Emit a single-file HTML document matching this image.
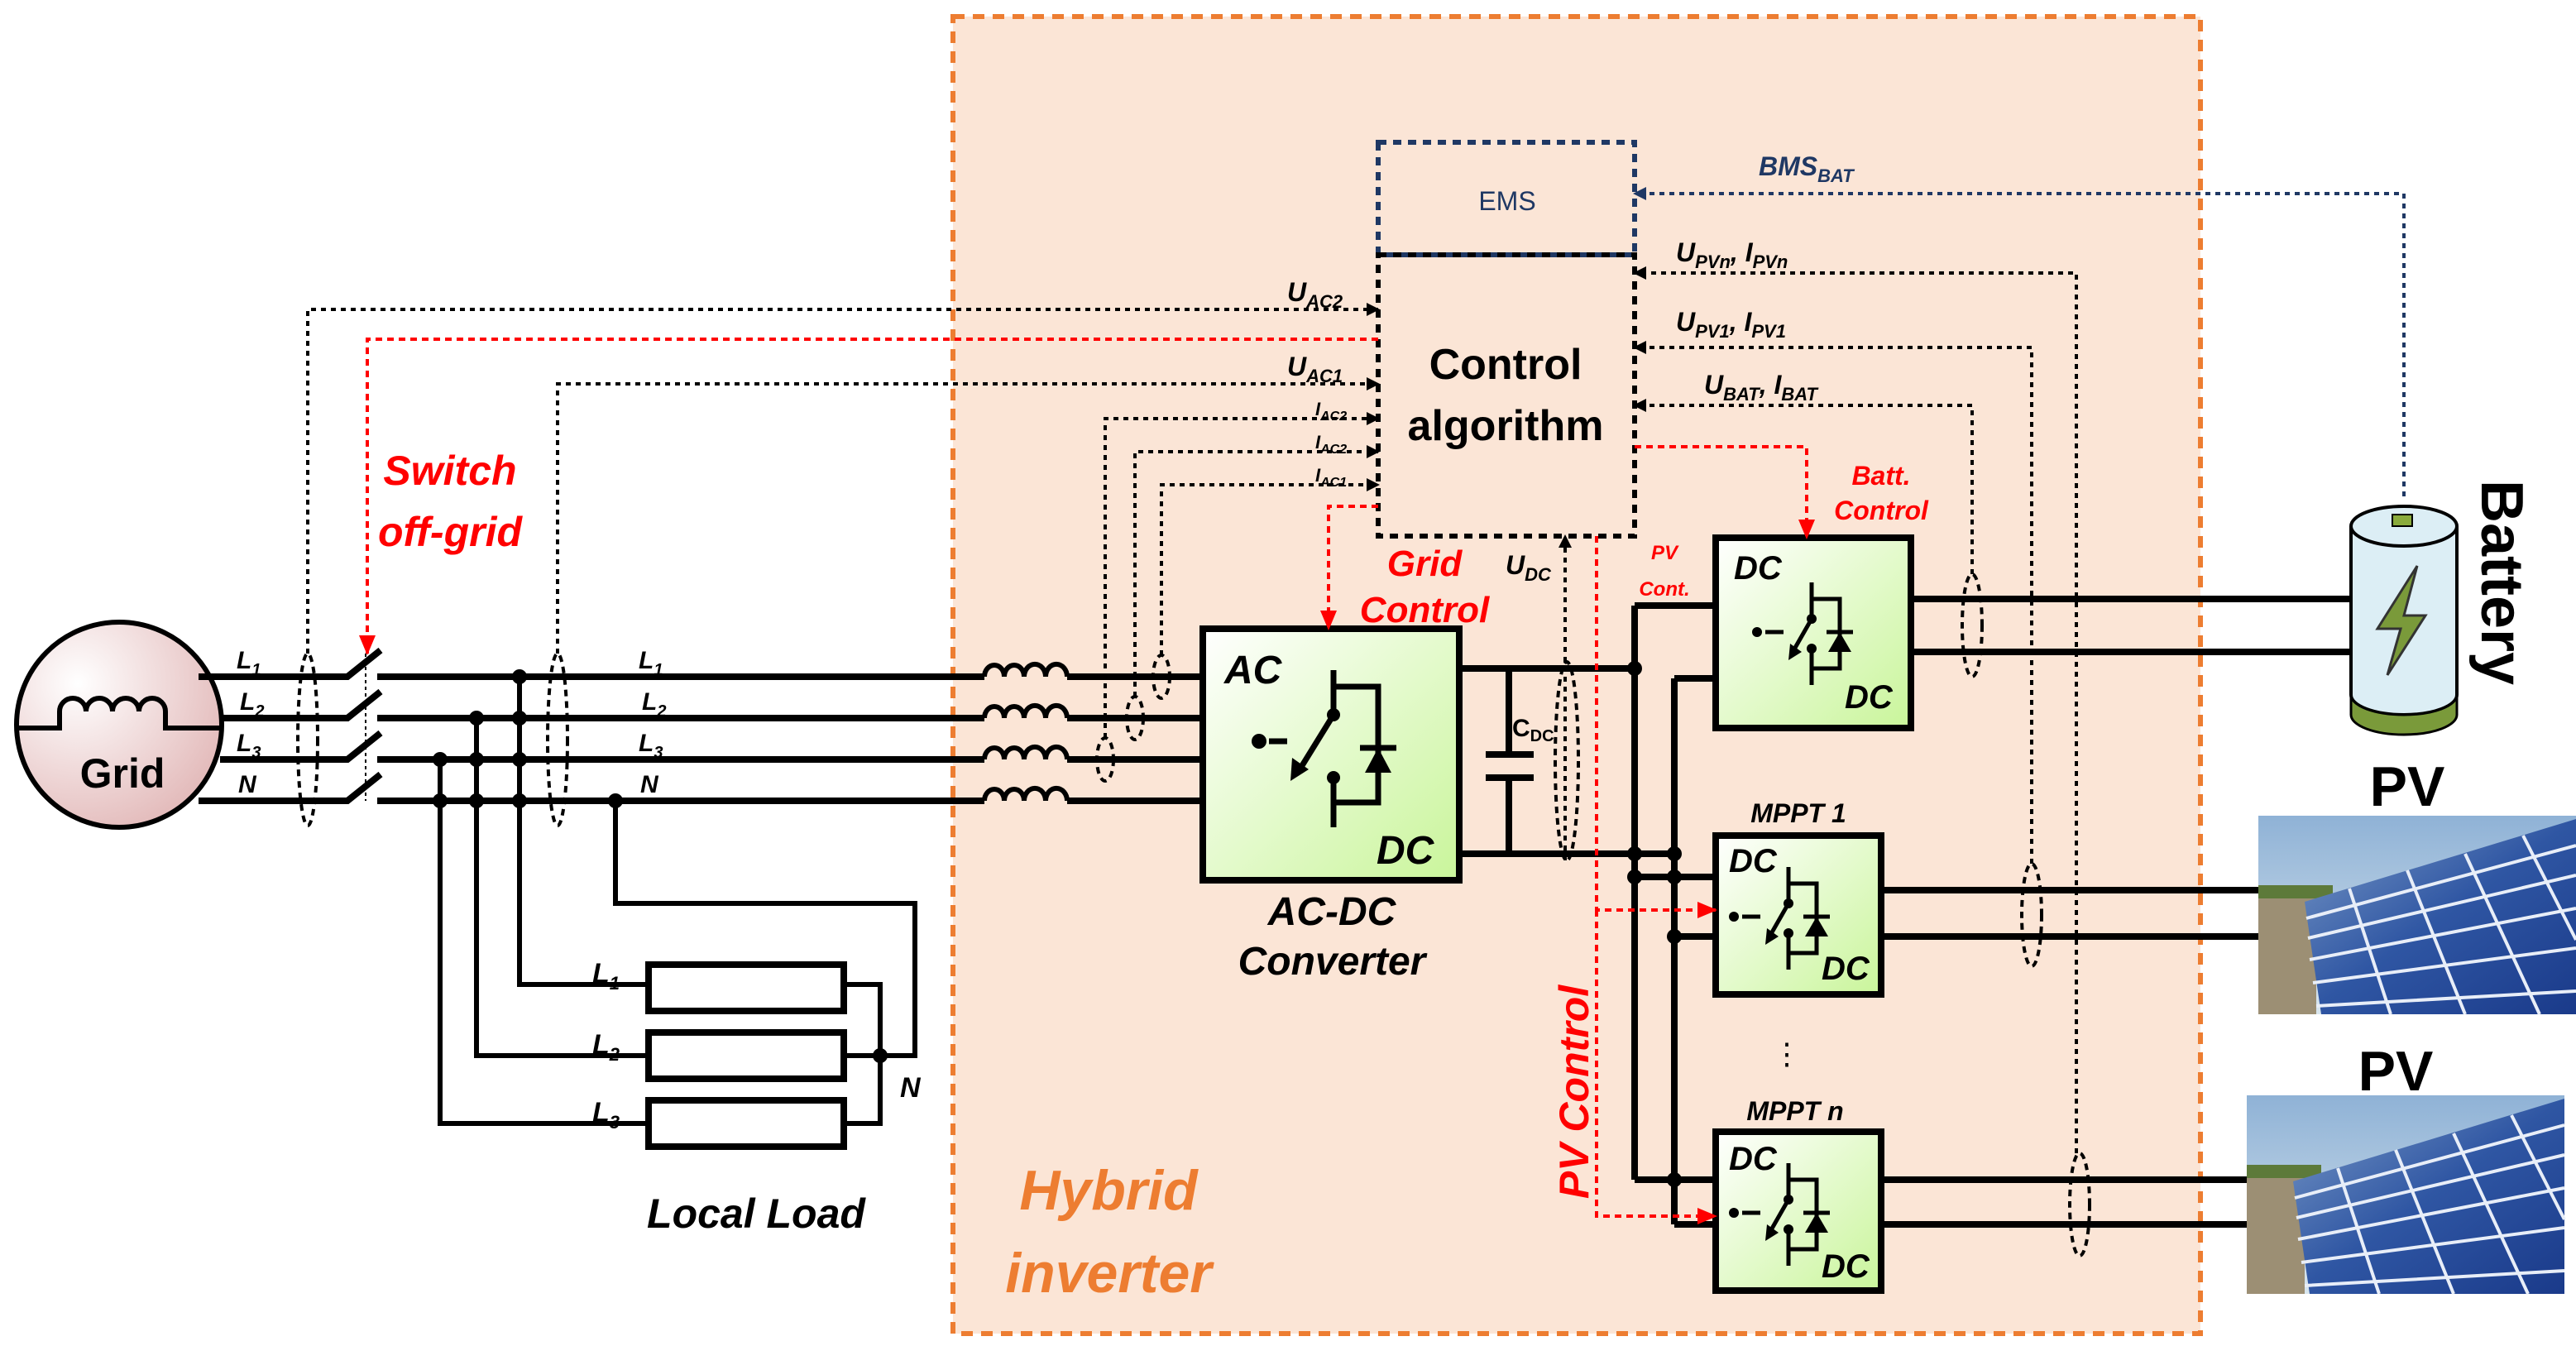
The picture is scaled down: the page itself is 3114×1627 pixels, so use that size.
<!DOCTYPE html>
<html><head><meta charset="utf-8">
<style>
html,body{margin:0;padding:0;background:#fff;}
svg{display:block;}
text{font-family:"Liberation Sans",sans-serif;}
.b{font-weight:bold;}
.i{font-style:italic;font-weight:bold;}
</style></head>
<body>
<svg width="3114" height="1627" viewBox="0 0 1557 813.5" preserveAspectRatio="none" xmlns="http://www.w3.org/2000/svg">
<defs>
<linearGradient id="gr" x1="0" y1="0" x2="1" y2="1">
<stop offset="0" stop-color="#ffffff"/><stop offset="1" stop-color="#c9f59a"/></linearGradient>
<radialGradient id="gc" cx="0.3" cy="0.3" r="0.8">
<stop offset="0" stop-color="#ffffff"/><stop offset="1" stop-color="#e2b8b8"/></radialGradient>
<linearGradient id="sky" x1="0" y1="0" x2="0" y2="1">
<stop offset="0" stop-color="#8fb2d6"/><stop offset="1" stop-color="#d9e6ee"/></linearGradient>
<linearGradient id="pan" x1="0" y1="0" x2="1" y2="1">
<stop offset="0" stop-color="#7b9bc8"/><stop offset="0.5" stop-color="#2f56a3"/><stop offset="1" stop-color="#1a3a8a"/></linearGradient>
<marker id="ak" markerWidth="8" markerHeight="8" refX="7" refY="4" orient="auto" markerUnits="userSpaceOnUse"><path d="M0,0 L8,4 L0,8 z" fill="#000"/></marker>
<marker id="ar" markerWidth="12" markerHeight="10" refX="11" refY="5" orient="auto" markerUnits="userSpaceOnUse"><path d="M0,0 L12,5 L0,10 z" fill="#f00"/></marker>
<marker id="an" markerWidth="8" markerHeight="8" refX="7" refY="4" orient="auto" markerUnits="userSpaceOnUse"><path d="M0,0 L8,4 L0,8 z" fill="#1f3864"/></marker>
<g id="panel">
<rect x="0" y="0" width="192" height="120" fill="url(#sky)"/>
<rect x="0" y="42" width="45" height="8" fill="#5d7a3a"/>
<rect x="0" y="50" width="35" height="70" fill="#9c8f74"/>
<polygon points="28,52 192,2 192,120 38,120" fill="url(#pan)"/>
<g stroke="#e8eef8" stroke-width="2" fill="none">
<path d="M29,62 L192,18 M30,74 L192,36 M31,87 L192,56 M33,101 L192,80 M35,115 L192,106"/>
<path d="M55,44 L80,120 M90,33 L125,120 M125,23 L170,120 M160,12 L192,75"/>
</g>
</g>
</defs>

<rect x="576" y="10" width="754" height="796" fill="#fbe5d6" stroke="#ed7d31" stroke-width="3" stroke-dasharray="7,5"/>

<!-- grid -->
<circle cx="72" cy="438" r="62" fill="url(#gc)" stroke="#000" stroke-width="3"/>
<path d="M10,440 H36 V430 a8,8 0 0 1 16,0 a8,8 0 0 1 16,0 a8,8 0 0 1 16,0 a8,8 0 0 1 16,0 V440 H134" fill="none" stroke="#000" stroke-width="3"/>
<text x="74" y="476" font-size="25" class="b" text-anchor="middle">Grid</text>

<g stroke="#000" stroke-width="4" fill="none">
<path d="M120,409 H210 L230,393 M133,434 H210 L230,418 M133,459 H210 L230,443 M120,484 H210 L230,468"/>
<path d="M228,409 H595 M228,434 H595 M228,459 H595 M228,484 H595"/>
<path d="M645,409 H727 M645,434 H727 M645,459 H727 M645,484 H727"/>
</g>
<g stroke="#000" stroke-width="3" fill="none">
<path d="M595,409 a6,7 0 0 1 12,0 a6,7 0 0 1 12,0 a6,7 0 0 1 13,0 a6,7 0 0 1 13,0"/>
<path d="M595,434 a6,7 0 0 1 12,0 a6,7 0 0 1 12,0 a6,7 0 0 1 13,0 a6,7 0 0 1 13,0"/>
<path d="M595,459 a6,7 0 0 1 12,0 a6,7 0 0 1 12,0 a6,7 0 0 1 13,0 a6,7 0 0 1 13,0"/>
<path d="M595,484 a6,7 0 0 1 12,0 a6,7 0 0 1 12,0 a6,7 0 0 1 13,0 a6,7 0 0 1 13,0"/>
</g>
<line x1="221" y1="395" x2="221" y2="484" stroke="#000" stroke-width="1" stroke-dasharray="2,2"/>

<g stroke="#000" stroke-width="3" fill="none">
<path d="M314,409 V595 H390 M288,434 V638 H390 M266,459 V679 H390 M372,484 V546 H553 V638 H532 M509,595 H532 V679 H509 M509,638 H532"/>
</g>
<g fill="#fff" stroke="#000" stroke-width="4">
<rect x="392" y="583" width="118" height="28"/>
<rect x="392" y="624" width="118" height="28"/>
<rect x="392" y="665" width="118" height="28"/>
</g>
<g fill="#000">
<circle cx="314" cy="409" r="4.5"/><circle cx="314" cy="434" r="4.5"/><circle cx="314" cy="459" r="4.5"/><circle cx="314" cy="484" r="4.5"/>
<circle cx="288" cy="434" r="4.5"/><circle cx="288" cy="459" r="4.5"/><circle cx="288" cy="484" r="4.5"/>
<circle cx="266" cy="459" r="4.5"/><circle cx="266" cy="484" r="4.5"/><circle cx="372" cy="484" r="4.5"/>
<circle cx="532" cy="638" r="4.5"/>
</g>
<g class="i" font-size="15">
<text x="143" y="404">L<tspan font-size="10" dy="4">1</tspan></text>
<text x="145" y="429">L<tspan font-size="10" dy="4">2</tspan></text>
<text x="143" y="454">L<tspan font-size="10" dy="4">3</tspan></text>
<text x="144" y="479">N</text>
<text x="386" y="404">L<tspan font-size="10" dy="4">1</tspan></text>
<text x="388" y="429">L<tspan font-size="10" dy="4">2</tspan></text>
<text x="386" y="454">L<tspan font-size="10" dy="4">3</tspan></text>
<text x="387" y="479">N</text>
<text x="358" y="594" font-size="17">L<tspan font-size="11" dy="4">1</tspan></text>
<text x="358" y="637" font-size="17">L<tspan font-size="11" dy="4">2</tspan></text>
<text x="358" y="678" font-size="17">L<tspan font-size="11" dy="4">3</tspan></text>
<text x="544" y="663" font-size="17">N</text>
</g>
<text x="457" y="742" class="i" font-size="25" text-anchor="middle">Local Load</text>

<g fill="none" stroke="#000" stroke-width="2" stroke-dasharray="4,3">
<ellipse cx="186" cy="447" rx="6" ry="52"/>
<ellipse cx="337" cy="447" rx="6" ry="52"/>
<ellipse cx="668" cy="459" rx="5" ry="13"/>
<ellipse cx="686" cy="434" rx="5" ry="13"/>
<ellipse cx="702" cy="409" rx="5" ry="13"/>
<ellipse cx="947" cy="460" rx="7" ry="60"/>
<ellipse cx="1192" cy="378" rx="6" ry="31"/>
<ellipse cx="1228" cy="553" rx="6" ry="31"/>
<ellipse cx="1257" cy="728" rx="6" ry="31"/>
</g>

<!-- AC-DC converter -->
<rect x="727" y="380" width="155" height="152" fill="url(#gr)" stroke="#000" stroke-width="4"/>
<text x="740" y="413" class="i" font-size="24">AC</text>
<text x="832" y="522" class="i" font-size="24">DC</text>
<g stroke="#000" stroke-width="3.5" fill="none">
<path d="M806,405 V432 M806,415 H833 V485 H806 M806,470 V500"/>
<path d="M767,448 H778 M806,432 L785,466"/>
<path d="M822,452 H844"/>
</g>
<circle cx="761" cy="448" r="4.5" fill="#000"/>
<circle cx="806" cy="432" r="4" fill="#000"/><circle cx="806" cy="470" r="4" fill="#000"/>
<polygon points="780,472 781,458 791,465" fill="#000"/>
<polygon points="833,452 825,467 841,467" fill="#000"/>
<text x="805" y="559" class="i" font-size="24" text-anchor="middle">AC-DC</text>
<text x="805" y="589" class="i" font-size="24" text-anchor="middle">Converter</text>

<g stroke="#000" stroke-width="4" fill="none">
<path d="M882,404 H988 M882,516 H1012"/>
<path d="M912,404 V456 M912,470 V516"/>
<path d="M898,456 H927 M898,470 H927"/>
<path d="M988,366 V713 M1012,410 V740"/>
<path d="M988,366 H1037 M1012,410 H1037"/>
<path d="M988,530 H1037 M1012,566 H1037"/>
<path d="M988,713 H1037 M1012,740 H1037"/>
<path d="M1155,362 H1425 M1155,394 H1425"/>
<path d="M1137,538 H1365 M1137,566 H1365"/>
<path d="M1137,713 H1358 M1137,740 H1358"/>
</g>
<g fill="#000">
<circle cx="988" cy="404" r="4.5"/><circle cx="988" cy="516" r="4.5"/><circle cx="1012" cy="516" r="4.5"/>
<circle cx="988" cy="530" r="4.5"/><circle cx="1012" cy="530" r="4.5"/><circle cx="1012" cy="566" r="4.5"/>
<circle cx="1012" cy="713" r="4.5"/>
</g>
<text x="914" y="445" font-size="15" class="b">C<tspan font-size="10" dy="3">DC</tspan></text>

<g stroke="#000" stroke-width="4" fill="url(#gr)">
<rect x="1037" y="325" width="118" height="115"/>
<rect x="1037" y="505" width="100" height="96"/>
<rect x="1037" y="684" width="100" height="96"/>
</g>
<g class="i" font-size="20">
<text x="1048" y="350">DC</text><text x="1115" y="428">DC</text>
<text x="1045" y="527">DC</text><text x="1101" y="592">DC</text>
<text x="1045" y="707">DC</text><text x="1101" y="772">DC</text>
</g>
<g id="dcsw">
<g stroke="#000" stroke-width="2.5" fill="none">
<path d="M1095,352 V374 M1095,362 H1112 V404 H1095 M1095,392 V414 M1067,382 H1078 M1095,374 L1083,395"/>
<path d="M1104,382 H1120"/>
</g>
<polygon points="1112,382 1105,394 1119,394" fill="#000"/>
<polygon points="1081,399 1082,389 1089,394" fill="#000"/>
<circle cx="1062" cy="382" r="3" fill="#000"/>
<circle cx="1095" cy="374" r="3" fill="#000"/><circle cx="1095" cy="392" r="3" fill="#000"/>
</g>
<g transform="translate(-14,172) "><use href="#dcsw"/></g>
<g transform="translate(-14,351)"><use href="#dcsw"/></g>
<text x="1087" y="497" class="i" font-size="16" text-anchor="middle">MPPT 1</text>
<text x="1085" y="677" class="i" font-size="16" text-anchor="middle">MPPT n</text>
<text x="1080" y="643" font-size="18" text-anchor="middle">⋮</text>

<rect x="833" y="86" width="155" height="68" fill="none" stroke="#1f3864" stroke-width="3" stroke-dasharray="5,4"/>
<text x="911" y="127" font-size="16" fill="#1f3864" text-anchor="middle">EMS</text>
<rect x="833" y="154" width="155" height="170" fill="none" stroke="#000" stroke-width="3" stroke-dasharray="5,4"/>
<text x="910" y="229" font-size="26" class="b" text-anchor="middle">Control</text>
<text x="910" y="266" font-size="26" class="b" text-anchor="middle">algorithm</text>

<g stroke="#000" stroke-width="2" stroke-dasharray="3,3" fill="none" marker-end="url(#ak)">
<path d="M186,395 V187 H833"/>
<path d="M337,395 V232 H833"/>
<path d="M668,446 V253 H833"/>
<path d="M686,421 V273 H833"/>
<path d="M702,396 V293 H833"/>
<path d="M1255,697 V165 H988"/>
<path d="M1228,522 V210 H988"/>
<path d="M1192,347 V245 H988"/>
<path d="M946,520 V324"/>
</g>
<path d="M1453,300 V117 H988" stroke="#1f3864" stroke-width="2" stroke-dasharray="3,3" fill="none" marker-end="url(#an)"/>
<g class="i" font-size="16">
<text x="778" y="182">U<tspan font-size="11" dy="4">AC2</tspan></text>
<text x="778" y="227">U<tspan font-size="11" dy="4">AC1</tspan></text>
<text x="795" y="251" font-size="11">I<tspan font-size="8" dy="3">AC2</tspan></text>
<text x="795" y="271" font-size="11">I<tspan font-size="8" dy="3">AC2</tspan></text>
<text x="795" y="291" font-size="11">I<tspan font-size="8" dy="3">AC1</tspan></text>
<text x="1013" y="158">U<tspan font-size="11" dy="4">PVn</tspan><tspan dy="-4">, I</tspan><tspan font-size="11" dy="4">PVn</tspan></text>
<text x="1013" y="200">U<tspan font-size="11" dy="4">PV1</tspan><tspan dy="-4">, I</tspan><tspan font-size="11" dy="4">PV1</tspan></text>
<text x="1030" y="238">U<tspan font-size="11" dy="4">BAT</tspan><tspan dy="-4">, I</tspan><tspan font-size="11" dy="4">BAT</tspan></text>
<text x="1063" y="106" fill="#1f3864">BMS<tspan font-size="11" dy="4">BAT</tspan></text>
<text x="910" y="347">U<tspan font-size="11" dy="4">DC</tspan></text>
</g>

<g stroke="#f00" stroke-width="2" stroke-dasharray="4,3" fill="none" marker-end="url(#ar)">
<path d="M833,205 H222 V395"/>
<path d="M833,306 H803 V380"/>
<path d="M988,270 H1092 V325"/>
<path d="M965,324 V550 H1037"/>
<path d="M965,550 V735 H1037"/>
</g>
<g class="i" fill="#f00">
<text x="272" y="293" font-size="25" text-anchor="middle">Switch</text>
<text x="272" y="330" font-size="25" text-anchor="middle">off-grid</text>
<text x="861" y="348" font-size="22" text-anchor="middle">Grid</text>
<text x="861" y="376" font-size="22" text-anchor="middle">Control</text>
<text x="1137" y="293" font-size="16" text-anchor="middle">Batt.</text>
<text x="1137" y="314" font-size="16" text-anchor="middle">Control</text>
<text x="1006" y="338" font-size="12" text-anchor="middle">PV</text>
<text x="1006" y="360" font-size="12" text-anchor="middle">Cont.</text>
<text transform="translate(960,660) rotate(-90)" font-size="25" text-anchor="middle">PV Control</text>
</g>
<text x="670" y="731" class="i" font-size="34" fill="#ed7d31" text-anchor="middle">Hybrid</text>
<text x="670" y="781" class="i" font-size="34" fill="#ed7d31" text-anchor="middle">inverter</text>

<path d="M1421,318 V420 A32,12 0 0 0 1485,420 V318" fill="#dceef5" stroke="#000" stroke-width="2"/>
<path d="M1421,420 A32,12 0 0 0 1485,420 V432 A32,12 0 0 1 1421,432 z" fill="#7a9a3a" stroke="#000" stroke-width="1.5"/>
<ellipse cx="1453" cy="318" rx="32" ry="12" fill="#dceef5" stroke="#000" stroke-width="2"/>
<rect x="1446" y="311" width="12" height="7" fill="#8aab3c" stroke="#000" stroke-width="1"/>
<polygon points="1461,342 1437,380 1451,380 1443,408 1466,372 1453,372" fill="#7a9a3a" stroke="#333" stroke-width="1.5"/>
<text transform="translate(1500,290) rotate(90)" font-size="36" class="b">Battery</text>

<text x="1455" y="487" font-size="34" class="b" text-anchor="middle">PV</text>
<use href="#panel" x="1365" y="493"/>
<text x="1448" y="659" font-size="34" class="b" text-anchor="middle">PV</text>
<use href="#panel" x="1358" y="662"/>
</svg>
</body></html>
